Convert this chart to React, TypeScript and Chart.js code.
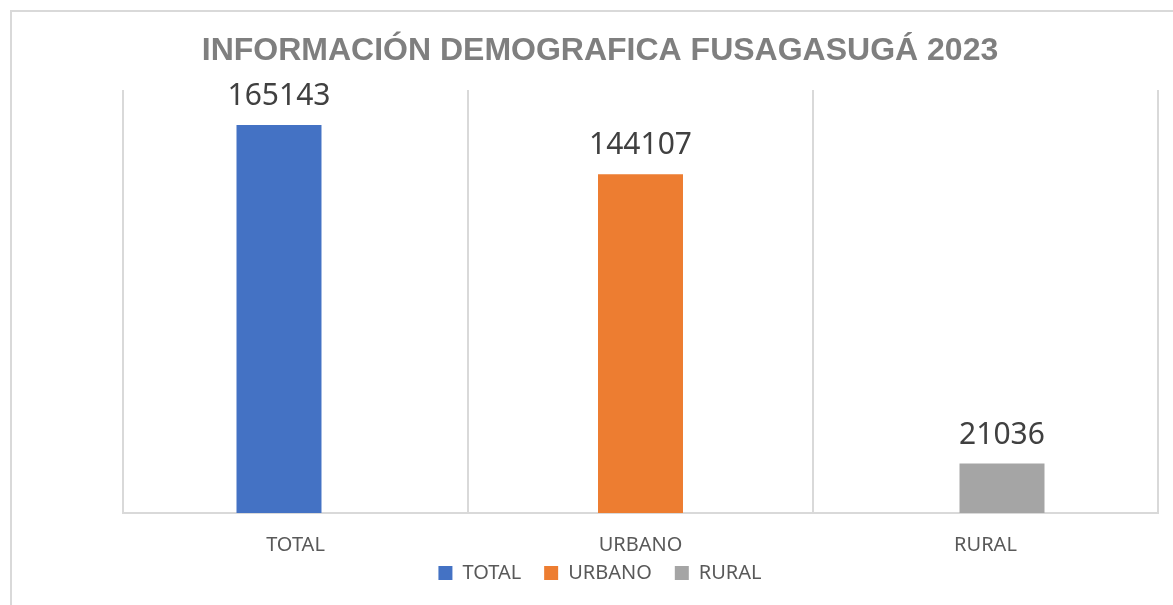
import React, { useEffect, useRef } from "react";
import { Chart, registerables } from "chart.js";

Chart.register(...registerables);

const titleText = "INFORMACIÓN DEMOGRAFICA FUSAGASUGÁ 2023";
const categories = ["TOTAL", "URBANO", "RURAL"];
const seriesNames = ["TOTAL", "URBANO", "RURAL"];
const totalValues = [165143, null, null];
const urbanoValues = [null, 144107, null];
const ruralValues = [null, null, 21036];
const seriesColors = ["#4472C4", "#ED7D31", "#A5A5A5"];
const yMin = 0;
const yMax = 180000;

const valueLabelPlugin = {
  id: "valueLabels",
  afterLayout(chart: any) {
    // let the category labels overflow the compact axis box without being clipped
    const xs = chart.scales.x;
    if (xs) xs.bottom = xs.top + 50;
  },
  afterDatasetsDraw(chart: any) {
    const ctx = chart.ctx;
    ctx.save();
    ctx.font = '30px "Noto Sans"';
    ctx.fillStyle = "#404040";
    ctx.textAlign = "center";
    ctx.textBaseline = "alphabetic";
    chart.data.datasets.forEach((ds: any, di: number) => {
      const meta = chart.getDatasetMeta(di);
      meta.data.forEach((el: any, i: number) => {
        const v = ds.data[i];
        if (v === null || v === undefined) return;
        ctx.fillText(String(v), el.x, el.y - 20);
      });
    });
    ctx.restore();
  },
};

export default function App() {
  const canvasRef = useRef<HTMLCanvasElement | null>(null);

  useEffect(() => {
    if (!canvasRef.current) return;
    const seriesData = [totalValues, urbanoValues, ruralValues];
    const chart = new Chart(canvasRef.current, {
      type: "bar",
      data: {
        labels: categories,
        datasets: seriesNames.map((name, i) => ({
          label: name,
          data: seriesData[i],
          backgroundColor: seriesColors[i],
          borderWidth: 0,
          categoryPercentage: 0.1435,
          barPercentage: 5.15,
        })),
      },
      options: {
        responsive: false,
        animation: false,
        layout: { padding: { left: 42, right: 15, top: 0, bottom: 12 } },
        plugins: {
          title: {
            display: true,
            text: titleText,
            color: "#7f7f7f",
            font: { family: '"Liberation Sans", Arial, sans-serif', size: 32, weight: "bold" },
            padding: { top: 31.5, bottom: 20.1 },
          },
          legend: {
            display: true,
            position: "bottom",
            labels: {
              boxWidth: 14,
              boxHeight: 14,
              padding: 23,
              color: "#595959",
              font: { family: '"Noto Sans"', size: 20 },
            },
          },
          tooltip: { enabled: false },
        },
        scales: {
          x: {
            grid: { color: "#d9d9d9", lineWidth: 2, drawTicks: false, offset: true },
            border: { color: "#d9d9d9", width: 2 },
            ticks: { color: "#595959", padding: 20, font: { family: '"Noto Sans"', size: 20 } },
            afterFit: (scale: any) => {
              scale.height = 27;
            },
          },
          y: {
            min: yMin,
            max: yMax,
            grid: { display: false },
            border: { display: false },
            ticks: { display: false },
            afterFit: (scale: any) => {
              scale.width = 81;
            },
          },
        },
      },
      plugins: [valueLabelPlugin],
    });
    return () => chart.destroy();
  }, []);

  return (
    <div
      style={{
        position: "absolute",
        left: 0,
        top: 0,
        width: 1173,
        height: 605,
        overflow: "hidden",
        background: "#ffffff",
      }}
    >
      <div
        style={{
          position: "absolute",
          left: 10,
          top: 10,
          width: 1300,
          height: 800,
          border: "2px solid #d9d9d9",
        }}
      />
      <canvas
        ref={canvasRef}
        width={1173}
        height={605}
        style={{ position: "absolute", left: 0, top: 0, width: 1173, height: 605 }}
      />
    </div>
  );
}
